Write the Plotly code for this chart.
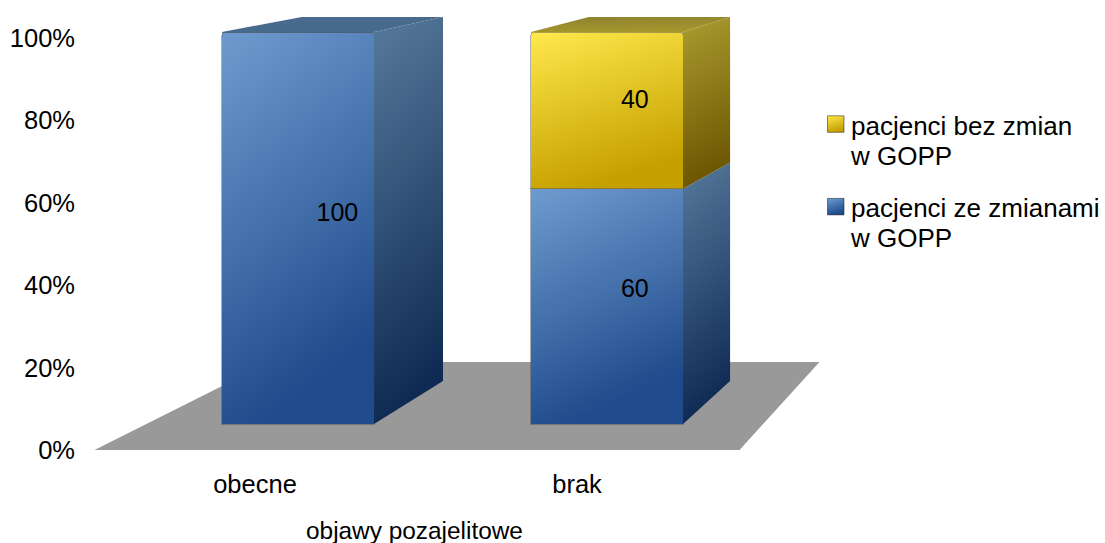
import json
import plotly.graph_objects as go

# Chart data
CATEGORIES = ["obecne", "brak"]
WITH_CHANGES = [100, 60]
WITHOUT_CHANGES = [0, 40]
NAME_WITH = "pacjenci ze zmianami<br>w GOPP"
NAME_WITHOUT = "pacjenci bez zmian<br>w GOPP"
PERCENT_TICKS = [0, 20, 40, 60, 80, 100]
AXIS_TITLE = "objawy pozajelitowe"

FONT = "Liberation Sans, Arial, sans-serif"
FONT_SIZE = 25

# Pseudo-3D box geometry, in units of the bar axes
BAR_WIDTH = 0.492
X_BACK_SCALE, X_BACK_SHIFT = 0.929, 0.2408
Y_BACK_SCALE, Y_BACK_SHIFT = 0.9286, 10.97
LABEL_NUDGE = -0.65
LABEL_DEPTH = 0.53


def project(x, value, depth):
    """Map a point of the front plane to the given depth (0 front, 1 back)."""
    bx = X_BACK_SCALE * x + X_BACK_SHIFT
    by = Y_BACK_SCALE * value + Y_BACK_SHIFT
    return x + (bx - x) * depth, value + (by - value) * depth


def polygon(points):
    xs, ys = zip(*[project(*p) for p in points])
    return list(xs) + [xs[0]], list(ys) + [ys[0]]


GRADIENTS = {
    "blueFront": ("#6e9bcf", "#1f4a8b"),
    "yellowFront": ("#ffe94c", "#c6a000"),
    "blueSide": ("#577a9c", "#0e2a52"),
    "yellowSide": ("#ab9d30", "#6b5500"),
    "blueTop": ("#486a8e", "#466a8c"),
    "yellowTop": ("#8c8130", "#a4962c"),
}

fig = go.Figure()

# Grey floor, on the axes that carry the tick labels
fig.add_trace(go.Scatter(
    x=[-0.4984, 1.5047, 1.7531, 0.0466, -0.4984],
    y=[0, 0, 21.36, 21.36, 0],
    mode="lines", fill="toself", fillcolor="#999999",
    line=dict(width=0), hoverinfo="skip", showlegend=False,
))

# Front faces as stacked bars
for name, values, meta, color, rank in [
    (NAME_WITH, WITH_CHANGES, "blueFront", "#4a76ad", 2),
    (NAME_WITHOUT, WITHOUT_CHANGES, "yellowFront", "#e3c526", 1),
]:
    fig.add_trace(go.Bar(
        x=list(range(len(CATEGORIES))), y=values, name=name, meta=meta,
        xaxis="x2", yaxis="y2", width=BAR_WIDTH, legendgroup=meta, legendrank=rank,
        marker=dict(color=color, cornerradius=3,
                    line=dict(color="rgba(70,80,90,0.45)", width=1)),
        hoverinfo="skip",
    ))

# Side and top faces, and the value labels at the middle of each box
label_x, label_y, label_text = [], [], []
for i in range(len(CATEGORIES)):
    base = 0
    stack = [(WITH_CHANGES[i], "blue"), (WITHOUT_CHANGES[i], "yellow")]
    left, right = i - BAR_WIDTH / 2, i + BAR_WIDTH / 2
    top_color = "blue"
    for value, hue in stack:
        if value == 0:
            continue
        end = base + value
        xs, ys = polygon([(right, base, 0), (right, end, 0), (right, end, 1), (right, base, 1)])
        fig.add_trace(go.Scatter(
            x=xs, y=ys, xaxis="x2", yaxis="y2", mode="lines", fill="toself",
            fillcolor=GRADIENTS[hue + "Side"][0], line=dict(width=0),
            meta=hue + "Side", hoverinfo="skip", showlegend=False,
        ))
        lx, ly = project(i, base + value / 2, LABEL_DEPTH)
        label_x.append(lx)
        label_y.append(ly + LABEL_NUDGE)
        label_text.append(str(value))
        base = end
        top_color = hue
    xs, ys = polygon([(left, base, 0), (left, base, 1), (right, base, 1), (right, base, 0)])
    fig.add_trace(go.Scatter(
        x=xs, y=ys, xaxis="x2", yaxis="y2", mode="lines", fill="toself",
        fillcolor=GRADIENTS[top_color + "Top"][0], line=dict(width=0),
        meta=top_color + "Top", hoverinfo="skip", showlegend=False,
    ))

fig.add_trace(go.Scatter(
    x=label_x, y=label_y, text=label_text, xaxis="x2", yaxis="y2",
    mode="text", textposition="middle center",
    textfont=dict(family=FONT, size=FONT_SIZE, color="#000000"),
    hoverinfo="skip", showlegend=False,
))

fig.update_layout(
    width=1105, height=543,
    margin=dict(l=80, r=5, t=17, b=93),
    paper_bgcolor="white", plot_bgcolor="white",
    barmode="stack", showlegend=True,
    font=dict(family=FONT, size=FONT_SIZE, color="#000000"),
    xaxis=dict(
        range=[-0.5435, 2.6242], tickvals=list(range(len(CATEGORIES))), ticktext=CATEGORIES,
        tickfont=dict(size=25.5),
        showgrid=False, zeroline=False, showline=False, ticks="", ticklabelstandoff=16,
    ),
    yaxis=dict(
        range=[0, 105.1], tickvals=PERCENT_TICKS,
        ticktext=[f"{t}%" for t in PERCENT_TICKS], tickfont=dict(size=25.5),
        showgrid=False, zeroline=False, showline=False, ticks="", ticklabelstandoff=4,
    ),
    xaxis2=dict(range=[-0.7055, 2.5955], overlaying="x", visible=False),
    yaxis2=dict(range=[-6.63, 103.83], overlaying="y", visible=False),
    legend=dict(
        x=0.4, y=0.9, xanchor="left", yanchor="top", traceorder="grouped",
        tracegroupgap=12, maxheight=300, bgcolor="rgba(0,0,0,0)",
        font=dict(family=FONT, size=26, color="#000000"),
    ),
    annotations=[dict(
        text=AXIS_TITLE, xref="paper", yref="paper", x=0.3284, y=-0.187,
        xanchor="center", yanchor="middle", showarrow=False,
        font=dict(family=FONT, size=24.4, color="#000000"),
    )],
)

# Diagonal gradient fills for the box faces and legend swatches
POST_SCRIPT = """
var gd = document.getElementById('{plot_id}');
var grads = %s;
var NS = 'http://www.w3.org/2000/svg';
var svg = gd.querySelector('svg.main-svg');
var defs = svg.querySelector('defs') || svg.insertBefore(document.createElementNS(NS, 'defs'), svg.firstChild);
Object.keys(grads).forEach(function (id) {
  var g = document.createElementNS(NS, 'linearGradient');
  g.setAttribute('id', 'face-' + id);
  g.setAttribute('x1', '0'); g.setAttribute('y1', '0');
  g.setAttribute('x2', id.indexOf('Side') >= 0 ? '0.15' : '0.3'); g.setAttribute('y2', '1');
  grads[id].forEach(function (c, i) {
    var s = document.createElementNS(NS, 'stop');
    s.setAttribute('offset', i ? '1' : '0');
    s.setAttribute('stop-color', c);
    g.appendChild(s);
  });
  defs.appendChild(g);
});
function metaOf(el) {
  var d = el.__data__;
  if (Array.isArray(d)) d = d[0];
  return d && d.trace ? d.trace.meta : (d && d[0] && d[0].trace ? d[0].trace.meta : null);
}
gd.querySelectorAll('.scatterlayer .trace').forEach(function (t) {
  var m = metaOf(t), f = t.querySelector('.js-fill');
  if (m && f) f.style.fill = 'url(#face-' + m + ')';
});
gd.querySelectorAll('.barlayer .trace').forEach(function (t) {
  var m = metaOf(t);
  if (m) t.querySelectorAll('path').forEach(function (p) { p.style.fill = 'url(#face-' + m + ')'; });
});
// the legend sits to the right of the floor, outside the space the axes reserve
gd.querySelector('.legend').setAttribute('transform', 'translate(811,101)');
gd.querySelectorAll('.legend .traces').forEach(function (t) {
  var m = metaOf(t);
  t.querySelectorAll('.legendpoints path').forEach(function (p) {
    // swatch beside the first text line, tighter to the text
    p.setAttribute('d', 'M13,-9H-3.5V-25.5H13Z');
    p.style.fill = 'url(#face-' + m + ')';
    p.style.stroke = '#000000';
    p.style.strokeWidth = '1px';
  });
  // closer line spacing in the two-line entries
  var lines = t.querySelectorAll('.legendtext tspan.line');
  if (lines.length > 1) {
    lines[1].setAttribute('y', parseFloat(lines[1].getAttribute('y')) - 3.8);
  }
});
""" % json.dumps(GRADIENTS)

fig.write_html("out.html", post_script=POST_SCRIPT, config={"displayModeBar": False, "responsive": False})
